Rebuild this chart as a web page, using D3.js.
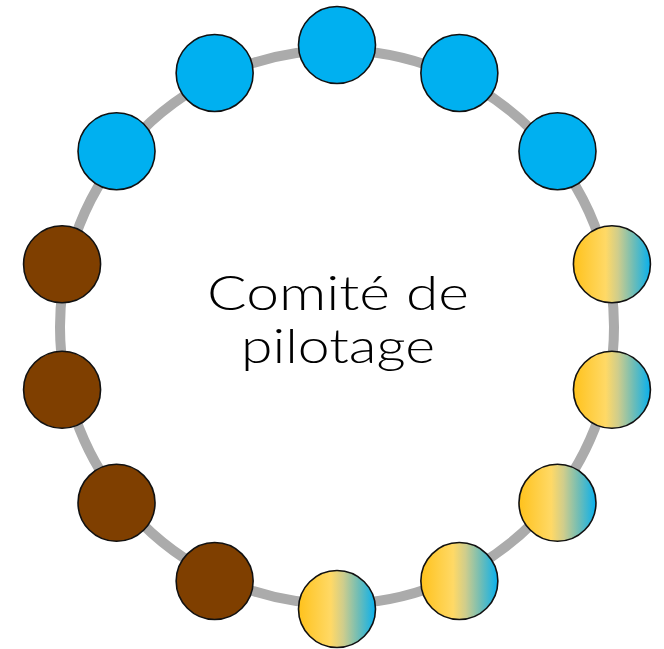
<!DOCTYPE html>
<html lang="fr">
<head>
    <meta charset="UTF-8">
    <title>Comité de pilotage</title>
    <style>
        body { margin: 0; background: #fff; }
        .ring { fill: none; stroke: #ababab; stroke-width: 10px; }
        .member { stroke: #111; stroke-width: 1.6px; }
        .title { font-family: Lato, "Open Sans", sans-serif; font-weight: 300; fill: #000; }
    </style>
</head>
<body>
    <svg id="chart" width="664" height="649"></svg>

    <script src="https://d3js.org/d3.v7.min.js"></script>
    <script>
        // members clockwise from the top
        const members = ["b", "b", "b", "g", "g", "g", "g", "g", "m", "m", "m", "m", "b", "b"];
        const groups = ["b", "g", "m"];
        const groupFills = ["#00b0f0", "url(#mix)", "#7f3f00"];
        const titleLines = ["Comité de", "pilotage"];
        const titleWidths = [262, 194];

        const gradStops = [
            { offset: "0%", color: "#ffc21c" },
            { offset: "42%", color: "#ffd966" },
            { offset: "58%", color: "#cfcd8c" },
            { offset: "78%", color: "#6fbdb6" },
            { offset: "100%", color: "#08b0ee" }
        ];

        const svg = d3.select("#chart");
        const cx = 337, cy = 327;

        const defs = svg.append("defs");
        const grad = defs.append("linearGradient")
            .attr("id", "mix")
            .attr("x1", "0%").attr("x2", "100%")
            .attr("y1", "0%").attr("y2", "0%");
        grad.selectAll("stop").data(gradStops).join("stop")
            .attr("offset", d => d.offset)
            .attr("stop-color", d => d.color);

        const fill = d3.scaleOrdinal().domain(groups).range(groupFills);
        const angle = d3.scaleLinear().domain([0, members.length]).range([-Math.PI / 2, 1.5 * Math.PI]);

        // ring
        svg.append("circle")
            .attr("class", "ring")
            .attr("cx", cx)
            .attr("cy", cy)
            .attr("r", 277);

        // member circles
        const orbit = 282;
        svg.selectAll(".member").data(members).join("circle")
            .attr("class", "member")
            .attr("cx", (d, i) => cx + orbit * Math.cos(angle(i)))
            .attr("cy", (d, i) => cy + orbit * Math.sin(angle(i)))
            .attr("r", 38.5)
            .attr("fill", d => fill(d));

        // title (Calibri Light is narrow, so squeeze Lato to the same widths)
        const lineY = d3.scalePoint().domain(titleLines).range([310, 363]);
        svg.selectAll(".title").data(titleLines).join("text")
            .attr("class", "title")
            .attr("x", cx + 1)
            .attr("y", d => lineY(d))
            .attr("text-anchor", "middle")
            .attr("font-size", 47)
            .attr("textLength", (d, i) => titleWidths[i])
            .attr("lengthAdjust", "spacingAndGlyphs")
            .text(d => d);
    </script>
</body>
</html>
